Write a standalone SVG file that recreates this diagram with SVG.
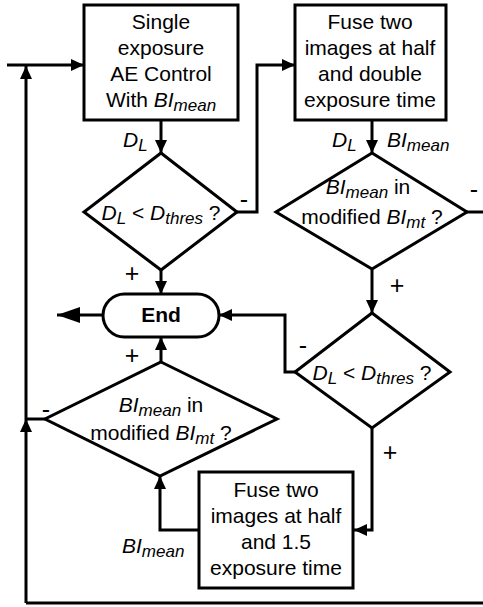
<svg xmlns="http://www.w3.org/2000/svg" width="483" height="607" viewBox="0 0 483 607">
<style>
.shape{fill:#fff;stroke:#000;stroke-width:3}
.ln{fill:none;stroke:#000;stroke-width:3}
.t{font-family:"Liberation Sans",Arial,sans-serif;font-size:21px;fill:#000}
.c{text-anchor:middle}
.i{font-style:italic}
.s{font-size:17px;font-style:italic}
.b{font-weight:bold}
.pm{font-size:25px}
</style>
<defs>
<marker id="ah" markerUnits="userSpaceOnUse" markerWidth="14" markerHeight="12" refX="13" refY="6" orient="auto">
<path d="M0,0 L13,6 L0,12 Z" fill="#000"/>
</marker>
<marker id="big" markerUnits="userSpaceOnUse" markerWidth="24" markerHeight="16" refX="23" refY="8" orient="auto">
<path d="M0,0 L23,8 L0,16 Z" fill="#000"/>
</marker>
</defs>
<g id="connectors">
<path class="ln" d="M7,65 L84,65" marker-end="url(#ah)"/>
<path class="ln" d="M26,603 L26,419" marker-end="url(#ah)"/>
<path class="ln" d="M26,419 L26,66" marker-end="url(#ah)"/>
<path class="ln" d="M26,603 L483,603"/>
<path class="ln" d="M45,419 L26,419"/>
<path class="ln" d="M161,120 L161,153" marker-end="url(#ah)"/>
<path class="ln" d="M237,212 L257,212 L257,65 L295,65" marker-end="url(#ah)"/>
<path class="ln" d="M372,120 L372,153" marker-end="url(#ah)"/>
<path class="ln" d="M467,212 L483,212"/>
<path class="ln" d="M372,269 L372,313" marker-end="url(#ah)"/>
<path class="ln" d="M161,270 L161,294" marker-end="url(#ah)"/>
<path class="ln" d="M161,362 L161,337" marker-end="url(#ah)"/>
<path class="ln" d="M103,315 L57,315" marker-end="url(#big)"/>
<path class="ln" d="M295,372 L285,372 L285,315 L219,315" marker-end="url(#ah)"/>
<path class="ln" d="M372,428 L372,530 L354,530" marker-end="url(#ah)"/>
<path class="ln" d="M199,530 L160,530 L160,476" marker-end="url(#ah)"/>
<text class="t i" x="123" y="147">D<tspan class="s" dy="4">L</tspan></text>
<text class="t i" x="332" y="147">D<tspan class="s" dy="4">L</tspan></text>
<text class="t i" x="387" y="147">BI<tspan class="s" dy="4">mean</tspan></text>
<text class="t i" x="122" y="553">BI<tspan class="s" dy="4">mean</tspan></text>
<text class="t c pm" x="244" y="208">-</text>
<text class="t c pm" x="474" y="198">-</text>
<text class="t c pm" x="303" y="354">-</text>
<text class="t c pm" x="46" y="418">-</text>
<text class="t c pm" x="132" y="282">+</text>
<text class="t c pm" x="132" y="364">+</text>
<text class="t c pm" x="397" y="294">+</text>
<text class="t c pm" x="390" y="461">+</text>
</g>
<g id="box1">
<rect class="shape" x="84" y="5" width="154" height="115"/>
<text class="t c" x="161" y="29">Single</text>
<text class="t c" x="161" y="55">exposure</text>
<text class="t c" x="161" y="81">AE Control</text>
<text class="t c" x="161" y="107">With <tspan class="i">BI</tspan><tspan class="s" dy="4">mean</tspan></text>
</g>
<g id="box2">
<rect class="shape" x="295" y="5" width="151" height="115"/>
<text class="t c" x="370" y="29">Fuse two</text>
<text class="t c" x="370" y="55">images at half</text>
<text class="t c" x="370" y="81">and double</text>
<text class="t c" x="370" y="107">exposure time</text>
</g>
<g id="diamond1">
<path class="shape" d="M161,153 L237,212 L161,270 L84,212 Z"/>
<text class="t c" x="161" y="220"><tspan class="i">D</tspan><tspan class="s" dy="4">L</tspan><tspan dy="-4"> &lt; </tspan><tspan class="i">D</tspan><tspan class="s" dy="4">thres</tspan><tspan dy="-4"> ?</tspan></text>
</g>
<g id="diamond2">
<path class="shape" d="M372,153 L467,212 L372,269 L276,212 Z"/>
<text class="t c" x="368" y="194"><tspan class="i">BI</tspan><tspan class="s" dy="4">mean</tspan><tspan dy="-4"> in</tspan></text>
<text class="t c" x="372" y="224">modified <tspan class="i">BI</tspan><tspan class="s" dy="4">mt</tspan><tspan dy="-4"> ?</tspan></text>
</g>
<g id="end">
<rect class="shape" x="103" y="294" width="116" height="43" rx="21.5"/>
<text class="t c b" x="161" y="322">End</text>
</g>
<g id="diamond3">
<path class="shape" d="M372,313 L450,372 L372,428 L295,372 Z"/>
<text class="t c" x="372" y="380"><tspan class="i">D</tspan><tspan class="s" dy="4">L</tspan><tspan dy="-4"> &lt; </tspan><tspan class="i">D</tspan><tspan class="s" dy="4">thres</tspan><tspan dy="-4"> ?</tspan></text>
</g>
<g id="diamond4">
<path class="shape" d="M161,362 L277,419 L160,476 L45,419 Z"/>
<text class="t c" x="161" y="412"><tspan class="i">BI</tspan><tspan class="s" dy="4">mean</tspan><tspan dy="-4"> in</tspan></text>
<text class="t c" x="161" y="440">modified <tspan class="i">BI</tspan><tspan class="s" dy="4">mt</tspan><tspan dy="-4"> ?</tspan></text>
</g>
<g id="box3">
<rect class="shape" x="199" y="472" width="154" height="116"/>
<text class="t c" x="276" y="497">Fuse two</text>
<text class="t c" x="276" y="523">images at half</text>
<text class="t c" x="276" y="549">and 1.5</text>
<text class="t c" x="276" y="575">exposure time</text>
</g>
</svg>
